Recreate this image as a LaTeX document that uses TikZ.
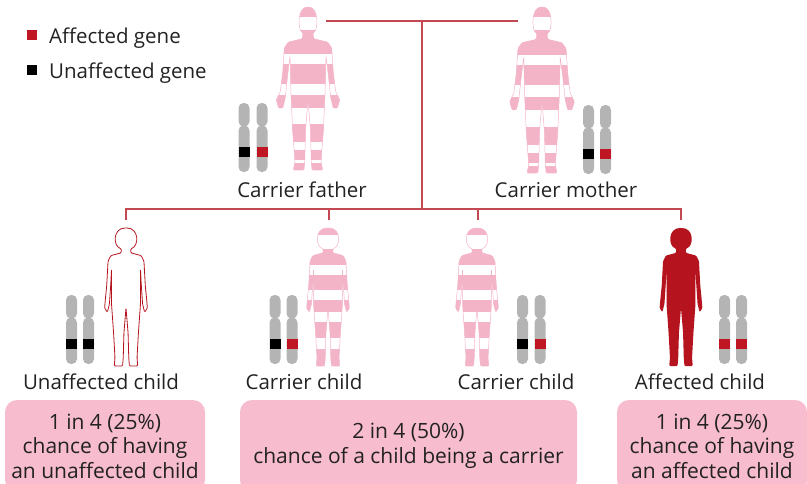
\documentclass[tikz,border=0pt]{standalone}
\usepackage{fontspec}
\setmainfont{Open Sans}
\usetikzlibrary{positioning}

\definecolor{figpink}{RGB}{244,180,200}
\definecolor{boxpink}{RGB}{248,188,207}
\definecolor{geneRed}{RGB}{190,22,34}
\definecolor{affRed}{RGB}{181,20,30}
\definecolor{lineRed}{RGB}{196,72,82}
\definecolor{chromgray}{RGB}{180,180,180}
\definecolor{txt}{RGB}{34,34,34}

% outlines, 100 units tall, feet at y=100
\newcommand\adultpath{(-3,16) .. controls (-6.5,14) and (-6.5,0) .. (0,0) .. controls (6.5,0) and (6.5,14) .. (3,16) -- (3.5,19.5) -- (12,21.5) -- (14.5,25) -- (15.5,40) -- (17,52) -- (19.5,57) -- (18,62) -- (15.5,62) -- (14,56) -- (12.5,42) -- (11,30) -- (10.5,52) -- (9.5,75) -- (8,95) -- (9,100) -- (2.5,100) -- (2,95) -- (1.5,75) -- (0,57) -- (-1.5,75) -- (-2,95) -- (-2.5,100) -- (-9,100) -- (-8,95) -- (-9.5,75) -- (-10.5,52) -- (-11,30) -- (-12.5,42) -- (-14,56) -- (-15.5,62) -- (-18,62) -- (-19.5,57) -- (-17,52) -- (-15.5,40) -- (-14.5,25) -- (-12,21.5) -- (-3.5,19.5) -- cycle}
\newcommand\childpath{(-3.5,15) .. controls (-9.5,13) and (-9.5,0) .. (0,0) .. controls (9.5,0) and (9.5,13) .. (3.5,15) -- (3.5,18) -- (11,20) -- (13,24) -- (14,42) -- (15,52) -- (15.5,58) -- (13.5,61) -- (12,55) -- (11,40) -- (10.5,30) -- (10.5,55) -- (9,76) -- (8,94) -- (8.5,100) -- (2.5,100) -- (2,94) -- (1.5,76) -- (0,58) -- (-1.5,76) -- (-2,94) -- (-2.5,100) -- (-8.5,100) -- (-8,94) -- (-9,76) -- (-10.5,55) -- (-10.5,30) -- (-11,40) -- (-12,55) -- (-13.5,61) -- (-15.5,58) -- (-15,52) -- (-14,42) -- (-13,24) -- (-11,20) -- (-3.5,18) -- cycle}

\tikzset{
  treeline/.style={draw=lineRed, line width=1.3pt},
  lbl/.style={text=txt, anchor=base, inner sep=0pt, font=\fontsize{20.5}{24}\selectfont},
  probbox/.style={fill=boxpink, rounded corners=12pt, align=center, inner sep=0pt,
    text=txt, font=\fontsize{21}{24.5}\selectfont},
  keybox/.style={minimum size=10pt, inner sep=0pt},
  pics/chrom/.style={code={
    \fill[chromgray, rounded corners=5pt] (-5.5,0) rectangle (5.5,23.5);
    \fill[chromgray, rounded corners=5pt] (-5.5,22.5) rectangle (5.5,69);
    \fill[#1] (-5.5,44) rectangle (5.5,54);
  }}
}

\begin{document}
\begin{tikzpicture}[x=1pt, y=-1pt]
\useasboundingbox (0,0) rectangle (807,483);

% key
\node[keybox, fill=geneRed] (keyaff) at (32,35) {};
\node[keybox, fill=black] (keyunaff) at (32,70) {};
\node[lbl, anchor=base west] (keyafftxt) at (49,43) {Affected gene};
\node[lbl, anchor=base west] (keyunafftxt) at (49,78) {Unaffected gene};

% parents
\begin{scope}[shift={(308,7)}, scale=1.63]
  \clip[rounded corners=1pt] \adultpath;
  \foreach \a/\b in {0/6, 14/29, 35/47, 54/62, 72/83, 88/94, 96/100}
    \fill[figpink] (-22,\a) rectangle (22,\b);
\end{scope}
\draw[figpink, line width=0.5pt, rounded corners=1pt, shift={(308,7)}, scale=1.63] \adultpath;

\begin{scope}[shift={(542,7)}, scale=1.66]
  \clip[rounded corners=1pt] \adultpath;
  \foreach \a/\b in {0/6, 14/29, 35/47, 54/62, 72/83, 88/94, 96/100}
    \fill[figpink] (-22,\a) rectangle (22,\b);
\end{scope}
\draw[figpink, line width=0.5pt, rounded corners=1pt, shift={(542,7)}, scale=1.66] \adultpath;

\pic at (244,103) {chrom=black};
\pic at (262,103) {chrom=geneRed};
\pic at (588.5,105) {chrom=black};
\pic at (605.5,105) {chrom=geneRed};

\node[lbl] (fatherlbl) at (302,197) {Carrier father};
\node[lbl] (motherlbl) at (566,197) {Carrier mother};

% family tree
\coordinate (fatherR) at (326,21);
\coordinate (motherL) at (518,21);
\coordinate (couple) at (422,21);
\coordinate (sibs) at (422,209);
\coordinate (kid1) at (126,220);
\coordinate (kid2) at (329,220);
\coordinate (kid3) at (478,220);
\coordinate (kid4) at (681,220);
\draw[treeline] (fatherR) -- (motherL);
\draw[treeline] (couple) -- (sibs);
\draw[treeline] (kid1) |- (sibs) -| (kid4);
\draw[treeline] (kid2) -- (kid2 |- sibs);
\draw[treeline] (kid3) -- (kid3 |- sibs);

% children
\draw[fill=white, draw=affRed, line width=0.8pt, rounded corners=1pt, shift={(126,228)}, scale=1.38] \childpath;

\foreach \cx in {328,477} {
  \begin{scope}[shift={(\cx,228)}, scale=1.38]
    \clip[rounded corners=1pt] \childpath;
    \foreach \a/\b in {0/5, 15/27, 34/45, 52/61, 68/80, 88/100}
      \fill[figpink] (-18,\a) rectangle (18,\b);
  \end{scope}
  \draw[figpink, line width=0.5pt, rounded corners=1pt, shift={(\cx,228)}, scale=1.38] \childpath;
}

\fill[affRed, rounded corners=1pt, shift={(681,228)}, scale=1.38] \childpath;

\pic at (71.5,295) {chrom=black};
\pic at (88.5,295) {chrom=black};
\pic at (275,295) {chrom=black};
\pic at (292,295) {chrom=geneRed};
\pic at (522.5,295) {chrom=black};
\pic at (540,295) {chrom=geneRed};
\pic at (724.5,295) {chrom=geneRed};
\pic at (741.5,295) {chrom=geneRed};

\node[lbl] (unafflbl) at (101,389) {Unaffected child};
\node[lbl] (carr1lbl) at (304,389) {Carrier child};
\node[lbl] (carr2lbl) at (516,389) {Carrier child};
\node[lbl] (afflbl) at (700,389) {Affected child};

% odds
\node[probbox, minimum width=200pt, minimum height=92pt] (oddsunaff) at (105,446)
  {1 in 4 (25\%)\\chance of having\\an unaffected child};
\node[probbox, minimum width=337pt, minimum height=92pt] (oddscarr) at (408.5,446)
  {2 in 4 (50\%)\\chance of a child being a carrier};
\node[probbox, minimum width=190pt, minimum height=92pt] (oddsaff) at (712,446)
  {1 in 4 (25\%)\\chance of having\\an affected child};
\end{tikzpicture}
\end{document}
